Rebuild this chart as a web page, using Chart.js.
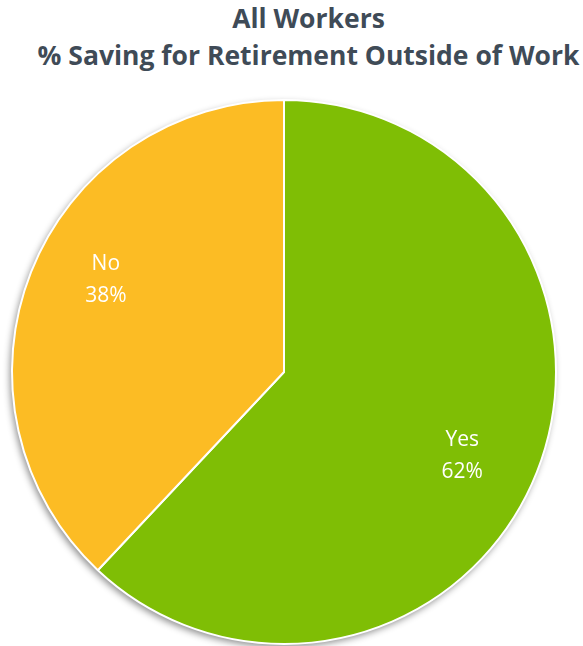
<!DOCTYPE html>
<html>
<head>
<meta charset="utf-8">
<script src="https://cdn.jsdelivr.net/npm/chart.js@4"></script>
<style>
  html, body { margin:0; padding:0; background:#fff; }
  #wrap { width:583px; height:646px; }
  #title {
    height:84px; margin:0; padding:0 0 0 34px; box-sizing:border-box;
    text-align:center; color:#3F4B57;
    font:bold 26.5px/37px "Open Sans", sans-serif; white-space:nowrap;
  }
</style>
</head>
<body>
<div id="wrap">
  <div id="title"></div>
  <canvas id="pieChart" width="583" height="562"></canvas>
</div>
<script>
// —––– Datos ––––
const titleLines = ['All Workers', '% Saving for Retirement Outside of Work'];
const categories = ['Yes', 'No'];
const values     = [62, 38];
const colors     = ['#7FBE05', '#FCBC24'];

// Título (dos líneas)
document.getElementById('title').innerHTML = titleLines.join('<br>');

// Sombra debajo del pastel
const shadowPlugin = {
  id: 'pieShadow',
  beforeDatasetsDraw(chart) {
    const arc = chart.getDatasetMeta(0).data[0];
    if (!arc) return;
    const {x, y, outerRadius} = arc.getProps(['x','y','outerRadius'], true);
    const ctx = chart.ctx;
    ctx.save();
    ctx.shadowColor = 'rgba(0,0,0,0.45)';
    ctx.shadowBlur = 7;
    ctx.shadowOffsetX = -2;
    ctx.shadowOffsetY = 3;
    ctx.beginPath();
    ctx.arc(x, y, outerRadius, 0, Math.PI*2);
    ctx.fillStyle = '#fff';
    ctx.fill();
    ctx.restore();
  }
};

// Etiquetas dentro de cada sector
const labelPlugin = {
  id: 'sliceLabels',
  afterDatasetsDraw(chart) {
    const ctx = chart.ctx;
    const meta = chart.getDatasetMeta(0);
    ctx.save();
    ctx.fillStyle = '#fff';
    ctx.font = '21px "Open Sans", sans-serif';
    ctx.textAlign = 'center';
    ctx.textBaseline = 'middle';
    meta.data.forEach((arc, i) => {
      const p = arc.getProps(['x','y','startAngle','endAngle','outerRadius'], true);
      const mid = (p.startAngle + p.endAngle) / 2 + 0.08;
      const r = p.outerRadius * 0.73;
      const cx = p.x + Math.cos(mid) * r, cy = p.y + Math.sin(mid) * r - 4;
      ctx.fillText(categories[i], cx, cy - 16);
      ctx.fillText(values[i] + '%', cx, cy + 16);
    });
    ctx.restore();
  }
};

new Chart(document.getElementById('pieChart'), {
  type: 'pie',
  data: {
    labels: categories,
    datasets: [{ data: values, backgroundColor: colors, borderColor: '#fff', borderWidth: 2 }]
  },
  options: {
    responsive: false,
    animation: false,
    layout: { padding: { left: 0, right: 15, top: 15, bottom: 1 } },
    plugins: {
      legend: { display: false },
      tooltip: { enabled: false }
    }
  },
  plugins: [shadowPlugin, labelPlugin]
});
</script>
</body>
</html>
